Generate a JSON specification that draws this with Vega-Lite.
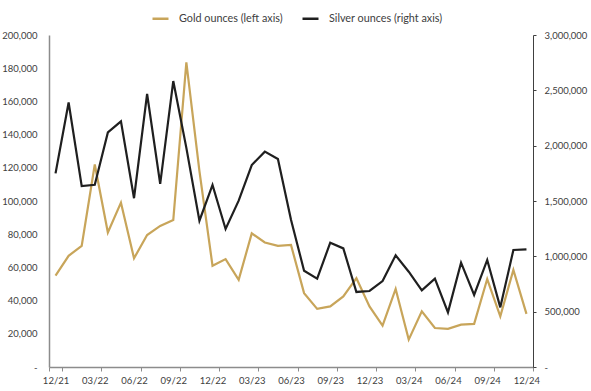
{
  "$schema": "https://vega.github.io/schema/vega-lite/v6.json",
  "width": 484,
  "height": 332,
  "autosize": "none",
  "padding": {"left": 49, "top": 35, "right": 58, "bottom": 24},
  "background": "white",
  "config": {
    "view": {"stroke": null},
    "font": "Lato",
    "axis": {"labelFont": "Lato", "labelColor": "#404040", "labelFontSize": 9.5, "grid": false, "title": null}
  },
  "data": {"values": [
    {"m": "12/21", "gold": 55000, "silver": 1750000},
    {"m": "01/22", "gold": 67000, "silver": 2390000},
    {"m": "02/22", "gold": 73000, "silver": 1635000},
    {"m": "03/22", "gold": 122000, "silver": 1647000},
    {"m": "04/22", "gold": 81000, "silver": 2120000},
    {"m": "05/22", "gold": 99000, "silver": 2220000},
    {"m": "06/22", "gold": 65500, "silver": 1525000},
    {"m": "07/22", "gold": 79500, "silver": 2467000},
    {"m": "08/22", "gold": 85000, "silver": 1655000},
    {"m": "09/22", "gold": 88500, "silver": 2584000},
    {"m": "10/22", "gold": 183500, "silver": 1980000},
    {"m": "11/22", "gold": 118000, "silver": 1322000},
    {"m": "12/22", "gold": 61000, "silver": 1645000},
    {"m": "01/23", "gold": 65000, "silver": 1247000},
    {"m": "02/23", "gold": 52500, "silver": 1503000},
    {"m": "03/23", "gold": 80500, "silver": 1825000},
    {"m": "04/23", "gold": 75000, "silver": 1946000},
    {"m": "05/23", "gold": 73000, "silver": 1880000},
    {"m": "06/23", "gold": 73500, "silver": 1330000},
    {"m": "07/23", "gold": 44500, "silver": 870000},
    {"m": "08/23", "gold": 35000, "silver": 798000},
    {"m": "09/23", "gold": 36500, "silver": 1123000},
    {"m": "10/23", "gold": 42500, "silver": 1072000},
    {"m": "11/23", "gold": 53500, "silver": 678000},
    {"m": "12/23", "gold": 36500, "silver": 687000},
    {"m": "01/24", "gold": 25000, "silver": 777000},
    {"m": "02/24", "gold": 47000, "silver": 1009000},
    {"m": "03/24", "gold": 16500, "silver": 861000},
    {"m": "04/24", "gold": 33500, "silver": 693000},
    {"m": "05/24", "gold": 23500, "silver": 798000},
    {"m": "06/24", "gold": 23000, "silver": 494000},
    {"m": "07/24", "gold": 25500, "silver": 943000},
    {"m": "08/24", "gold": 26000, "silver": 651000},
    {"m": "09/24", "gold": 53000, "silver": 967000},
    {"m": "10/24", "gold": 30500, "silver": 539000},
    {"m": "11/24", "gold": 58500, "silver": 1057000},
    {"m": "12/24", "gold": 32000, "silver": 1063000}
  ]},
  "encoding": {
    "x": {
      "field": "m", "type": "ordinal", "sort": null,
      "scale": {"type": "band", "paddingInner": 0, "paddingOuter": 0},
      "axis": {
        "values": ["12/21", "03/22", "06/22", "09/22", "12/22", "03/23", "06/23", "09/23", "12/23", "03/24", "06/24", "09/24", "12/24"],
        "labelAngle": 0, "tickBand": "extent", "tickSize": 4, "tickColor": "#8c8c8c",
        "domainColor": "#8c8c8c", "domainWidth": 1.5, "labelPadding": 4, "labelFontSize": 9.5
      }
    }
  },
  "layer": [
    {
      "mark": {"type": "line", "strokeWidth": 2.2, "interpolate": "linear"},
      "encoding": {
        "y": {
          "field": "gold", "type": "quantitative",
          "scale": {"domain": [0, 200000], "nice": false},
          "axis": {
            "orient": "left", "values": [0, 20000, 40000, 60000, 80000, 100000, 120000, 140000, 160000, 180000, 200000],
            "labelExpr": "datum.value == 0 ? '-' : format(datum.value, ',')",
            "ticks": false, "tickSize": 0, "labelPadding": 12, "domainColor": "#8c8c8c", "domainWidth": 1.5
          }
        },
        "color": {
          "datum": "Gold ounces (left axis)",
          "scale": {"domain": ["Gold ounces (left axis)", "Silver ounces (right axis)"], "range": ["#C8A55A", "#1f1f1f"]},
          "legend": {
            "orient": "none", "legendX": 102, "legendY": -26, "direction": "horizontal", "title": null, "padding": 0,
            "symbolType": "stroke", "symbolStrokeWidth": 2.5, "symbolSize": 256, "labelFont": "Lato",
            "labelFontSize": 10.8, "labelColor": "#404040", "columnPadding": 14, "labelOffset": 9
          }
        }
      }
    },
    {
      "mark": {"type": "line", "strokeWidth": 2.2, "interpolate": "linear"},
      "encoding": {
        "y": {
          "field": "silver", "type": "quantitative",
          "scale": {"domain": [0, 3000000], "nice": false},
          "axis": {
            "orient": "right", "values": [0, 500000, 1000000, 1500000, 2000000, 2500000, 3000000],
            "labelExpr": "datum.value == 0 ? '-' : format(datum.value, ',')",
            "tickSize": 3, "tickColor": "#404040", "labelPadding": 8, "domainColor": "#404040", "domainWidth": 1
          }
        },
        "color": {"datum": "Silver ounces (right axis)"}
      }
    }
  ],
  "resolve": {"scale": {"y": "independent"}}
}
